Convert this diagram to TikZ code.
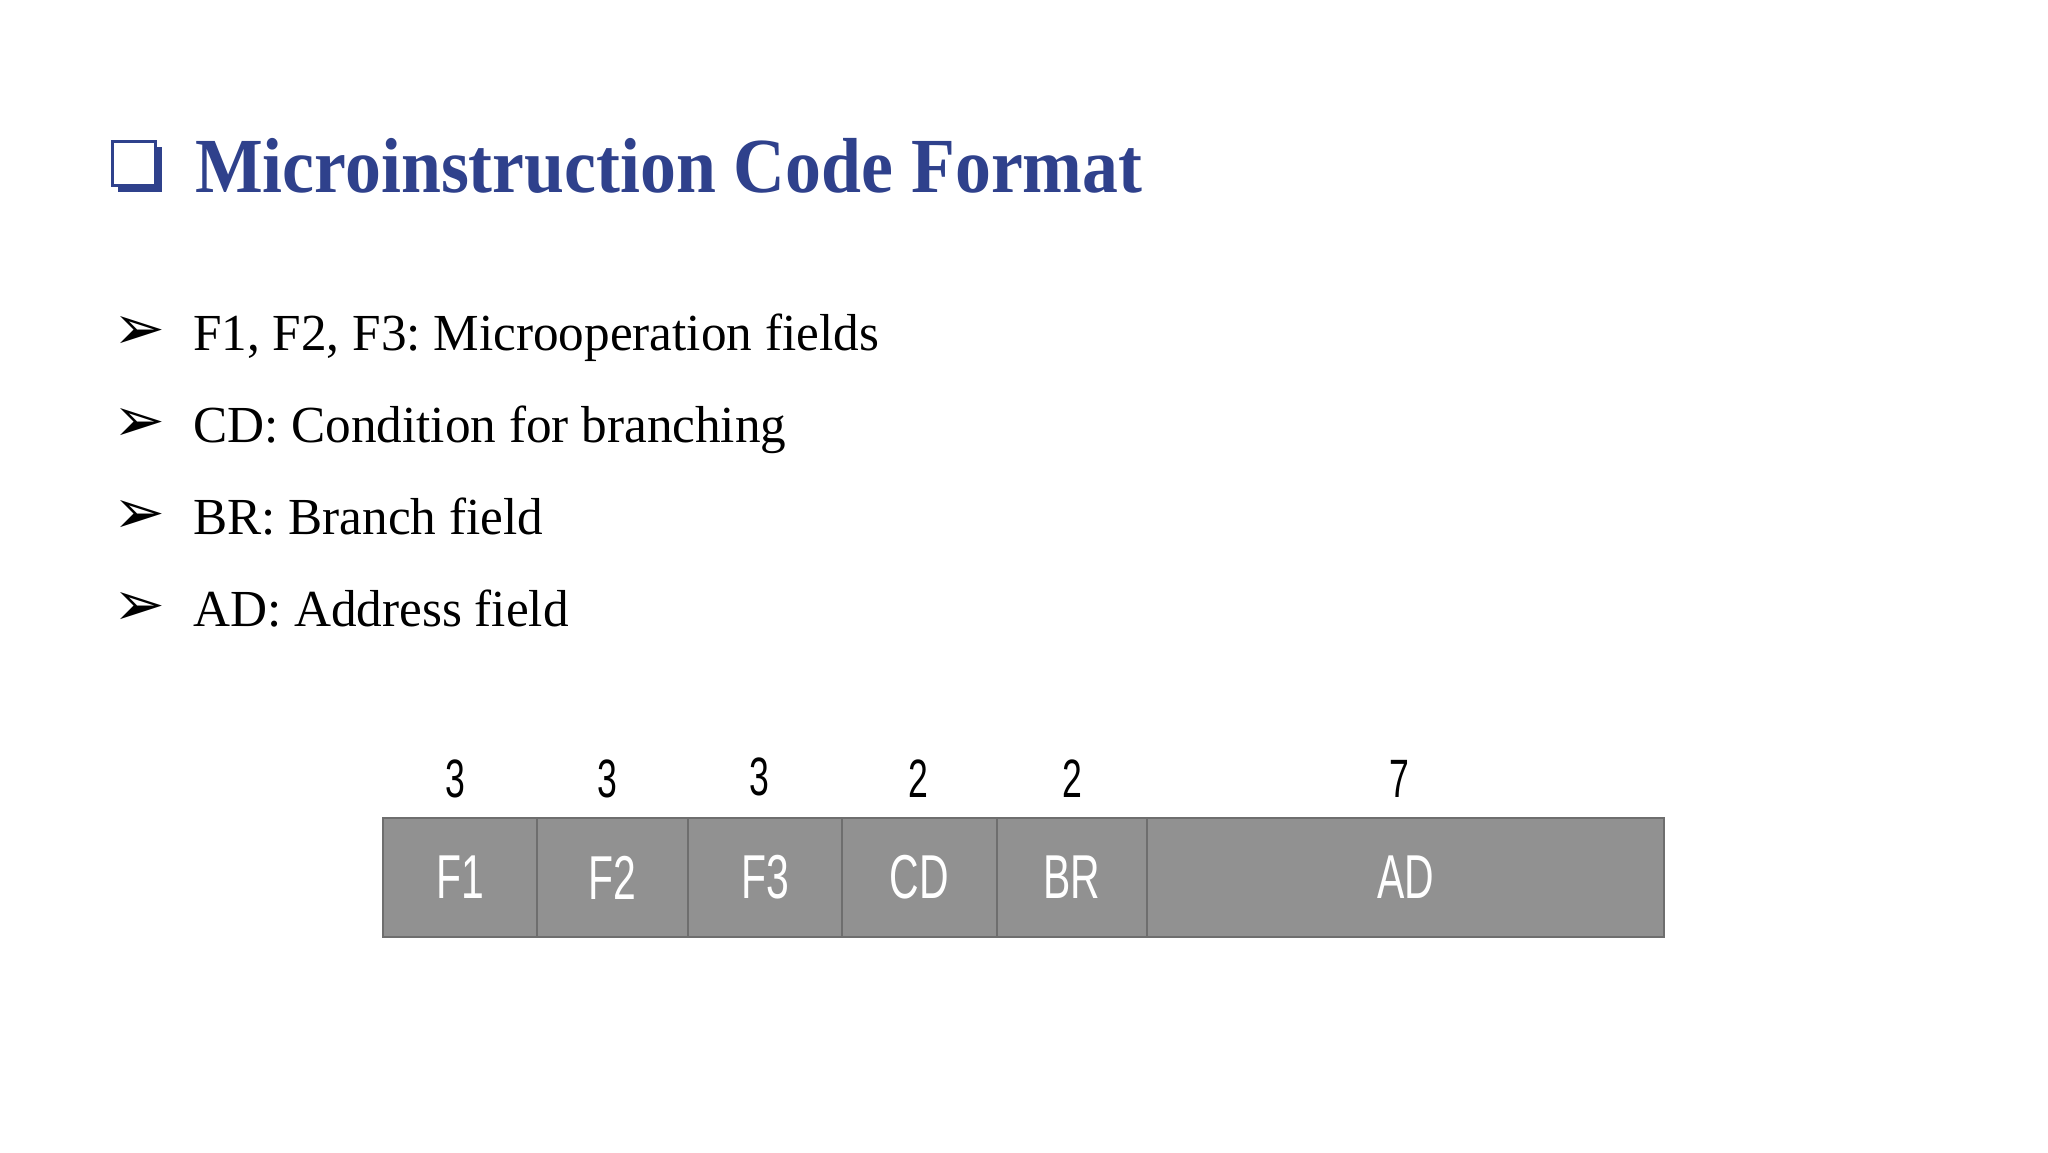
\documentclass[tikz,border=0pt]{standalone}
\usepackage{fontspec}
\setmainfont[FakeStretch=0.985]{Liberation Serif}
\newfontfamily\titlefont[FakeStretch=0.92]{Liberation Serif}
\newfontfamily\condfont[FakeStretch=0.66]{Liberation Sans}
\newfontfamily\dingfont{DejaVu Sans}
\definecolor{titleblue}{HTML}{2F418C}
\definecolor{fieldgray}{HTML}{919191}
\definecolor{fieldedge}{HTML}{6E6E6E}
\frenchspacing
\begin{document}
\begin{tikzpicture}[x=1pt,y=-1pt,
  titletext/.style={anchor=base west,inner sep=0pt,text=titleblue,font=\titlefont\fontsize{78}{90}\selectfont\bfseries},
  bullettext/.style={anchor=base west,inner sep=0pt,font=\fontsize{52}{60}\selectfont},
  bulletmark/.style={anchor=center,inner sep=0pt,font=\dingfont\fontsize{62}{70}\selectfont},
  field/.style={draw=fieldedge,line width=2pt,fill=fieldgray,minimum height=119pt,inner sep=0pt,text=white,font=\condfont\fontsize{62}{70}\selectfont},
  width/.style={anchor=base,inner sep=0pt,font=\condfont\fontsize{54}{60}\selectfont}
]
\useasboundingbox[fill=white] (0,0) rectangle (2048,1152);
% title box symbol
\fill[titleblue] (118,147) rectangle (162,192);
\filldraw[draw=titleblue,fill=white,line width=3pt] (112,141) rectangle (155,185);
\node[titletext] (title) at (195,192) {Microinstruction Code Format};
% bullets
\node[bulletmark] (m1) at (139,333) {➢};
\node[bullettext] (b1) at (193,350) {F1, F2, F3: Microoperation fields};
\node[bulletmark] (m2) at (139,425) {➢};
\node[bullettext] (b2) at (193,442) {CD: Condition for branching};
\node[bulletmark] (m3) at (139,517) {➢};
\node[bullettext] (b3) at (193,534) {BR: Branch field};
\node[bulletmark] (m4) at (139,609) {➢};
\node[bullettext] (b4) at (193,626) {AD: Address field};
% fields
\node[field,minimum width=154pt] (f1) at (460,877.5) {F1};
\node[field,minimum width=151pt] (f2) at (612.5,877.5) {F2};
\node[field,minimum width=154pt] (f3) at (765,877.5) {F3};
\node[field,minimum width=155pt] (cd) at (919.5,877.5) {CD};
\node[field,minimum width=150pt] (br) at (1072,877.5) {BR};
\node[field,minimum width=517pt] (ad) at (1405.5,877.5) {AD};
% widths
\node[width] (w1) at (455,797) {3};
\node[width] (w2) at (607,797) {3};
\node[width] (w3) at (759,795) {3};
\node[width] (w4) at (918,797) {2};
\node[width] (w5) at (1072,797) {2};
\node[width] (w6) at (1399,797) {7};
\end{tikzpicture}
\end{document}
